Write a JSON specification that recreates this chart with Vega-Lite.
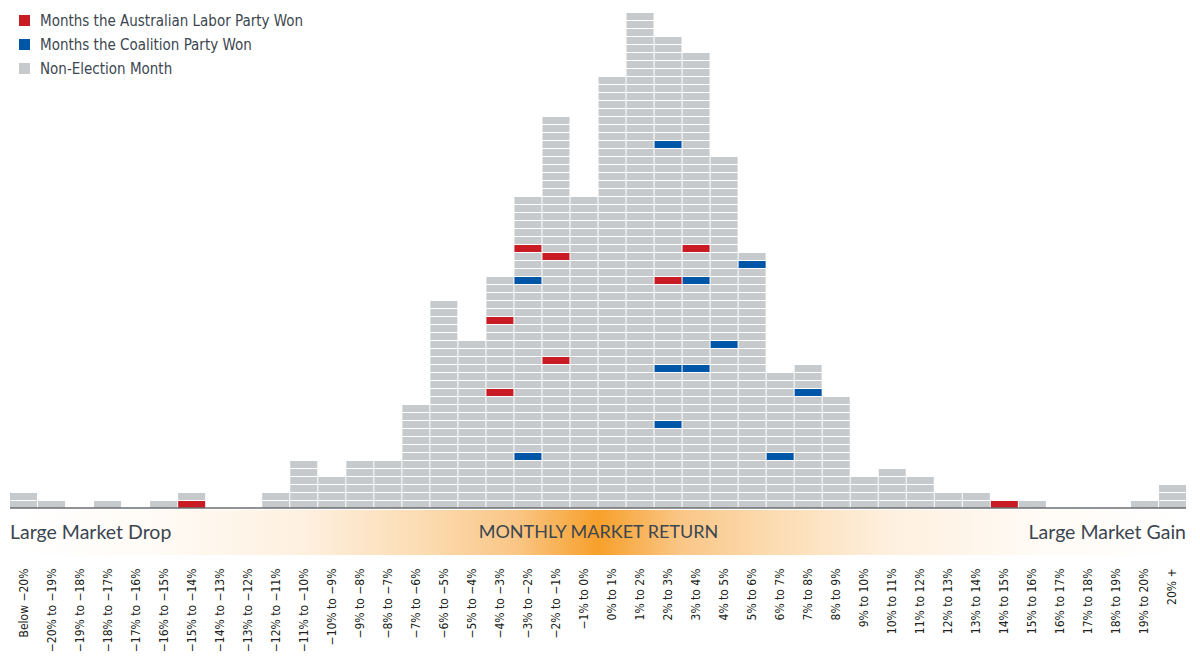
{
  "$schema": "https://vega.github.io/schema/vega-lite/v6.json",
  "width": 1176,
  "height": 556,
  "autosize": {"type": "none"},
  "padding": {"left": 10, "top": 0, "right": 14, "bottom": 107},
  "background": "#ffffff",
  "config": {
    "view": {"stroke": null},
    "font": "Liberation Sans Narrow, DejaVu Sans Condensed, Roboto, sans-serif"
  },
  "datasets": {
    "cells": [
      {"bin": "Below −20%", "seg": 0, "party": "Non-Election Month", "n": 2},
      {"bin": "−20% to −19%", "seg": 0, "party": "Non-Election Month", "n": 1},
      {"bin": "−18% to −17%", "seg": 0, "party": "Non-Election Month", "n": 1},
      {"bin": "−16% to −15%", "seg": 0, "party": "Non-Election Month", "n": 1},
      {"bin": "−15% to −14%", "seg": 0, "party": "Months the Australian Labor Party Won", "n": 1},
      {"bin": "−15% to −14%", "seg": 1, "party": "Non-Election Month", "n": 1},
      {"bin": "−12% to −11%", "seg": 0, "party": "Non-Election Month", "n": 2},
      {"bin": "−11% to −10%", "seg": 0, "party": "Non-Election Month", "n": 6},
      {"bin": "−10% to −9%", "seg": 0, "party": "Non-Election Month", "n": 4},
      {"bin": "−9% to −8%", "seg": 0, "party": "Non-Election Month", "n": 6},
      {"bin": "−8% to −7%", "seg": 0, "party": "Non-Election Month", "n": 6},
      {"bin": "−7% to −6%", "seg": 0, "party": "Non-Election Month", "n": 13},
      {"bin": "−6% to −5%", "seg": 0, "party": "Non-Election Month", "n": 26},
      {"bin": "−5% to −4%", "seg": 0, "party": "Non-Election Month", "n": 21},
      {"bin": "−4% to −3%", "seg": 0, "party": "Non-Election Month", "n": 14},
      {"bin": "−4% to −3%", "seg": 1, "party": "Months the Australian Labor Party Won", "n": 1},
      {"bin": "−4% to −3%", "seg": 2, "party": "Non-Election Month", "n": 8},
      {"bin": "−4% to −3%", "seg": 3, "party": "Months the Australian Labor Party Won", "n": 1},
      {"bin": "−4% to −3%", "seg": 4, "party": "Non-Election Month", "n": 5},
      {"bin": "−3% to −2%", "seg": 0, "party": "Non-Election Month", "n": 6},
      {"bin": "−3% to −2%", "seg": 1, "party": "Months the Coalition Party Won", "n": 1},
      {"bin": "−3% to −2%", "seg": 2, "party": "Non-Election Month", "n": 21},
      {"bin": "−3% to −2%", "seg": 3, "party": "Months the Coalition Party Won", "n": 1},
      {"bin": "−3% to −2%", "seg": 4, "party": "Non-Election Month", "n": 3},
      {"bin": "−3% to −2%", "seg": 5, "party": "Months the Australian Labor Party Won", "n": 1},
      {"bin": "−3% to −2%", "seg": 6, "party": "Non-Election Month", "n": 6},
      {"bin": "−2% to −1%", "seg": 0, "party": "Non-Election Month", "n": 18},
      {"bin": "−2% to −1%", "seg": 1, "party": "Months the Australian Labor Party Won", "n": 1},
      {"bin": "−2% to −1%", "seg": 2, "party": "Non-Election Month", "n": 12},
      {"bin": "−2% to −1%", "seg": 3, "party": "Months the Australian Labor Party Won", "n": 1},
      {"bin": "−2% to −1%", "seg": 4, "party": "Non-Election Month", "n": 17},
      {"bin": "−1% to 0%", "seg": 0, "party": "Non-Election Month", "n": 39},
      {"bin": "0% to 1%", "seg": 0, "party": "Non-Election Month", "n": 54},
      {"bin": "1% to 2%", "seg": 0, "party": "Non-Election Month", "n": 62},
      {"bin": "2% to 3%", "seg": 0, "party": "Non-Election Month", "n": 10},
      {"bin": "2% to 3%", "seg": 1, "party": "Months the Coalition Party Won", "n": 1},
      {"bin": "2% to 3%", "seg": 2, "party": "Non-Election Month", "n": 6},
      {"bin": "2% to 3%", "seg": 3, "party": "Months the Coalition Party Won", "n": 1},
      {"bin": "2% to 3%", "seg": 4, "party": "Non-Election Month", "n": 10},
      {"bin": "2% to 3%", "seg": 5, "party": "Months the Australian Labor Party Won", "n": 1},
      {"bin": "2% to 3%", "seg": 6, "party": "Non-Election Month", "n": 16},
      {"bin": "2% to 3%", "seg": 7, "party": "Months the Coalition Party Won", "n": 1},
      {"bin": "2% to 3%", "seg": 8, "party": "Non-Election Month", "n": 13},
      {"bin": "3% to 4%", "seg": 0, "party": "Non-Election Month", "n": 17},
      {"bin": "3% to 4%", "seg": 1, "party": "Months the Coalition Party Won", "n": 1},
      {"bin": "3% to 4%", "seg": 2, "party": "Non-Election Month", "n": 10},
      {"bin": "3% to 4%", "seg": 3, "party": "Months the Coalition Party Won", "n": 1},
      {"bin": "3% to 4%", "seg": 4, "party": "Non-Election Month", "n": 3},
      {"bin": "3% to 4%", "seg": 5, "party": "Months the Australian Labor Party Won", "n": 1},
      {"bin": "3% to 4%", "seg": 6, "party": "Non-Election Month", "n": 24},
      {"bin": "4% to 5%", "seg": 0, "party": "Non-Election Month", "n": 20},
      {"bin": "4% to 5%", "seg": 1, "party": "Months the Coalition Party Won", "n": 1},
      {"bin": "4% to 5%", "seg": 2, "party": "Non-Election Month", "n": 23},
      {"bin": "5% to 6%", "seg": 0, "party": "Non-Election Month", "n": 30},
      {"bin": "5% to 6%", "seg": 1, "party": "Months the Coalition Party Won", "n": 1},
      {"bin": "5% to 6%", "seg": 2, "party": "Non-Election Month", "n": 1},
      {"bin": "6% to 7%", "seg": 0, "party": "Non-Election Month", "n": 6},
      {"bin": "6% to 7%", "seg": 1, "party": "Months the Coalition Party Won", "n": 1},
      {"bin": "6% to 7%", "seg": 2, "party": "Non-Election Month", "n": 10},
      {"bin": "7% to 8%", "seg": 0, "party": "Non-Election Month", "n": 14},
      {"bin": "7% to 8%", "seg": 1, "party": "Months the Coalition Party Won", "n": 1},
      {"bin": "7% to 8%", "seg": 2, "party": "Non-Election Month", "n": 3},
      {"bin": "8% to 9%", "seg": 0, "party": "Non-Election Month", "n": 14},
      {"bin": "9% to 10%", "seg": 0, "party": "Non-Election Month", "n": 4},
      {"bin": "10% to 11%", "seg": 0, "party": "Non-Election Month", "n": 5},
      {"bin": "11% to 12%", "seg": 0, "party": "Non-Election Month", "n": 4},
      {"bin": "12% to 13%", "seg": 0, "party": "Non-Election Month", "n": 2},
      {"bin": "13% to 14%", "seg": 0, "party": "Non-Election Month", "n": 2},
      {"bin": "14% to 15%", "seg": 0, "party": "Months the Australian Labor Party Won", "n": 1},
      {"bin": "15% to 16%", "seg": 0, "party": "Non-Election Month", "n": 1},
      {"bin": "19% to 20%", "seg": 0, "party": "Non-Election Month", "n": 1},
      {"bin": "20% +", "seg": 0, "party": "Non-Election Month", "n": 3}
    ]
  },
  "layer": [
    {
      "data": {"values": [{"band": "MONTHLY MARKET RETURN"}]},
      "mark": {
        "type": "rect",
        "color": {
          "gradient": "linear",
          "x1": 0, "x2": 1, "y1": 0, "y2": 0,
          "stops": [
            {"offset": 0, "color": "#ffffff"},
            {"offset": 0.12, "color": "#fffbf6"},
            {"offset": 0.25, "color": "#fef0df"},
            {"offset": 0.35, "color": "#fcdcb2"},
            {"offset": 0.43, "color": "#fac686"},
            {"offset": 0.5, "color": "#f7a02b"},
            {"offset": 0.57, "color": "#fac686"},
            {"offset": 0.65, "color": "#fcdcb2"},
            {"offset": 0.75, "color": "#fef0df"},
            {"offset": 0.88, "color": "#fffbf6"},
            {"offset": 1, "color": "#ffffff"}
          ]
        }
      },
      "encoding": {
        "y": {"datum": -0.25, "type": "quantitative"},
        "y2": {"datum": -5.875}
      }
    },
    {
      "data": {"name": "cells"},
      "mark": {"type": "bar"},
      "encoding": {
        "x": {
          "field": "bin",
          "type": "nominal",
          "scale": {
            "domain": ["Below −20%", "−20% to −19%", "−19% to −18%", "−18% to −17%", "−17% to −16%", "−16% to −15%", "−15% to −14%", "−14% to −13%", "−13% to −12%", "−12% to −11%", "−11% to −10%", "−10% to −9%", "−9% to −8%", "−8% to −7%", "−7% to −6%", "−6% to −5%", "−5% to −4%", "−4% to −3%", "−3% to −2%", "−2% to −1%", "−1% to 0%", "0% to 1%", "1% to 2%", "2% to 3%", "3% to 4%", "4% to 5%", "5% to 6%", "6% to 7%", "7% to 8%", "8% to 9%", "9% to 10%", "10% to 11%", "11% to 12%", "12% to 13%", "13% to 14%", "14% to 15%", "15% to 16%", "16% to 17%", "17% to 18%", "18% to 19%", "19% to 20%", "20% +"],
            "paddingInner": 0.036,
            "paddingOuter": 0
          },
          "axis": {
            "title": null,
            "orient": "bottom",
            "labelAngle": -90,
            "labelAlign": "right",
            "labelBaseline": "middle",
            "labelPadding": 12,
            "labelFont": "Liberation Sans Narrow, DejaVu Sans Condensed, Roboto, sans-serif",
            "labelFontSize": 12,
            "labelColor": "#231f20",
            "ticks": false,
            "domain": false
          }
        },
        "y": {
          "field": "n",
          "type": "quantitative",
          "stack": "zero",
          "scale": {"domain": [-6, 63.5], "nice": false, "zero": false},
          "axis": {
            "title": null,
            "labels": false,
            "ticks": false,
            "domain": false,
            "grid": true,
            "gridColor": "#ffffff",
            "gridWidth": 1,
            "gridOpacity": 1,
            "zindex": 1,
            "tickCount": 200,
            "values": [1,2,3,4,5,6,7,8,9,10,11,12,13,14,15,16,17,18,19,20,21,22,23,24,25,26,27,28,29,30,31,32,33,34,35,36,37,38,39,40,41,42,43,44,45,46,47,48,49,50,51,52,53,54,55,56,57,58,59,60,61,62]
          }
        },
        "order": {"field": "seg", "type": "quantitative"},
        "color": {
          "field": "party",
          "type": "nominal",
          "scale": {
            "domain": ["Months the Australian Labor Party Won", "Months the Coalition Party Won", "Non-Election Month"],
            "range": ["#c81b23", "#0056a6", "#c6cacc"]
          },
          "legend": {
            "title": null,
            "orient": "none",
            "legendX": 7,
            "legendY": 13,
            "zindex": 3,
            "padding": 0,
            "symbolType": "square",
            "symbolSize": 121,
            "symbolStrokeWidth": 0,
            "symbolOpacity": 1,
            "labelFont": "Liberation Sans Narrow, DejaVu Sans Condensed, Roboto, sans-serif",
            "labelFontSize": 15,
            "labelColor": "#3c4650",
            "labelOffset": 8,
            "labelLimit": 400,
            "rowPadding": 8
          }
        }
      }
    },
    {
      "data": {"values": [{"v": 0}]},
      "mark": {"type": "rule", "color": "#6b6e70", "strokeWidth": 1.5},
      "encoding": {
        "y": {"field": "v", "type": "quantitative"}
      }
    },
    {
      "data": {"values": [{"label": "Large Market Drop", "bin": "Below −20%"}]},
      "mark": {"type": "text", "align": "left", "baseline": "middle", "font": "Lato", "fontSize": 19.5, "color": "#3c4650"},
      "encoding": {
        "x": {"field": "bin", "type": "nominal", "bandPosition": 0},
        "y": {"datum": -3.1, "type": "quantitative"},
        "text": {"field": "label"}
      }
    },
    {
      "data": {"values": [{"label": "MONTHLY MARKET RETURN", "bin": "0% to 1%"}]},
      "mark": {"type": "text", "align": "center", "baseline": "middle", "font": "Lato", "fontSize": 18, "color": "#3c4650"},
      "encoding": {
        "x": {"field": "bin", "type": "nominal", "bandPosition": 0},
        "y": {"datum": -3.1, "type": "quantitative"},
        "text": {"field": "label"}
      }
    },
    {
      "data": {"values": [{"label": "Large Market Gain", "bin": "20% +"}]},
      "mark": {"type": "text", "align": "right", "baseline": "middle", "font": "Lato", "fontSize": 19.5, "color": "#3c4650"},
      "encoding": {
        "x": {"field": "bin", "type": "nominal", "bandPosition": 1},
        "y": {"datum": -3.1, "type": "quantitative"},
        "text": {"field": "label"}
      }
    }
  ]
}
